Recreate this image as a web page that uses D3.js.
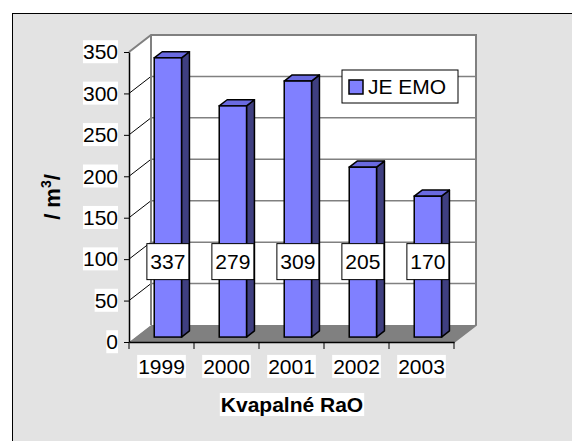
<!DOCTYPE html>
<html>
<head>
<meta charset="utf-8">
<script src="https://cdn.jsdelivr.net/npm/d3@7"></script>
<style>
  body { margin: 0; background: #fff; }
  text { font-family: "Liberation Sans", Arial, sans-serif; }
</style>
</head>
<body>
<svg id="chart" width="572" height="441"></svg>
<script>
// data
const years = ['1999', '2000', '2001', '2002', '2003'];
const values = [337, 279, 309, 205, 170];
const yTicks = [0, 50, 100, 150, 200, 250, 300, 350];
const seriesName = 'JE EMO';

const svg = d3.select('#chart');
const front = { left: 129, right: 454, top: 52, bottom: 342 };
const depth = { dx: 22, dy: -17 };   // full 3d depth offset
const barDepth = [0.29, 0.65];       // bar occupies this slice of depth
const fontSize = 21;

const xScale = d3.scaleBand()
    .domain(years)
    .range([front.left, front.right]);

const yScale = d3.scaleLinear()
    .domain([0, 350])
    .range([front.bottom, front.top]);

// outer frame
svg.append('rect')
    .attr('x', 12.5).attr('y', 13.5)
    .attr('width', 600).attr('height', 600)
    .attr('fill', '#e3e3e3')
    .attr('stroke', '#000').attr('stroke-width', 1);

const off = f => [depth.dx * f, depth.dy * f];

// floor
svg.append('polygon')
    .attr('points', [
      [front.left, front.bottom],
      [front.left + depth.dx, front.bottom + depth.dy],
      [front.right + depth.dx, front.bottom + depth.dy],
      [front.right, front.bottom]
    ].join(' '))
    .attr('fill', '#808080');

// side wall
svg.append('polygon')
    .attr('points', [
      [front.left, front.bottom],
      [front.left, front.top],
      [front.left + depth.dx, front.top + depth.dy],
      [front.left + depth.dx, front.bottom + depth.dy]
    ].join(' '))
    .attr('fill', '#fff');

// back wall
svg.append('rect')
    .attr('x', front.left + depth.dx)
    .attr('y', front.top + depth.dy)
    .attr('width', front.right - front.left)
    .attr('height', front.bottom - front.top)
    .attr('fill', '#fff');

// grid on back wall
svg.append('g').selectAll('line')
    .data(yTicks.slice(1, -1))
    .join('line')
    .attr('x1', front.left + depth.dx)
    .attr('x2', front.right + depth.dx)
    .attr('y1', d => yScale(d) + depth.dy)
    .attr('y2', d => yScale(d) + depth.dy)
    .attr('stroke', '#808080').attr('stroke-width', 1.5);

// diagonal grid on side wall
svg.append('g').selectAll('line')
    .data(yTicks.slice(1, -1))
    .join('line')
    .attr('x1', front.left)
    .attr('x2', front.left + depth.dx)
    .attr('y1', d => yScale(d))
    .attr('y2', d => yScale(d) + depth.dy)
    .attr('stroke', '#000').attr('stroke-width', 1);

// wall borders (gray)
svg.append('path')
    .attr('d', `M${front.left},${front.top} L${front.left + depth.dx},${front.top + depth.dy}
      H${front.right + depth.dx} V${front.bottom + depth.dy} L${front.right},${front.bottom}`)
    .attr('fill', 'none')
    .attr('stroke', '#808080').attr('stroke-width', 2);
svg.append('line')
    .attr('x1', front.left + depth.dx).attr('x2', front.left + depth.dx)
    .attr('y1', front.top + depth.dy).attr('y2', front.bottom + depth.dy)
    .attr('stroke', '#808080').attr('stroke-width', 2);

// bars
const barW = xScale.bandwidth() * 0.42;
const [f0, f1] = barDepth;
const bars = svg.append('g').selectAll('g')
    .data(years.map((y, i) => ({ year: y, value: values[i] })))
    .join('g');

bars.each(function(d) {
  const g = d3.select(this);
  const cx = xScale(d.year) + xScale.bandwidth() / 2;
  const x0 = cx - barW / 2 + off(f0)[0];
  const x1 = x0 + barW;
  const yb = yScale(0) + off(f0)[1];
  const yt = yScale(d.value) + off(f0)[1];
  const sx = (f1 - f0) * depth.dx, sy = (f1 - f0) * depth.dy;
  g.append('polygon')
      .attr('points', [[x1, yb], [x1, yt], [x1 + sx, yt + sy], [x1 + sx, yb + sy]].join(' '))
      .attr('fill', '#3f3f80').attr('stroke', '#000').attr('stroke-width', 1.5)
      .attr('stroke-linejoin', 'round');
  g.append('polygon')
      .attr('points', [[x0, yt], [x0 + sx, yt + sy], [x1 + sx, yt + sy], [x1, yt]].join(' '))
      .attr('fill', '#6a6ae0').attr('stroke', '#000').attr('stroke-width', 1.5)
      .attr('stroke-linejoin', 'round');
  g.append('rect')
      .attr('x', x0).attr('y', yt)
      .attr('width', barW).attr('height', yb - yt)
      .attr('fill', '#8080ff').attr('stroke', '#000').attr('stroke-width', 1.5);
});

// value labels
const labelLevel = 97;
bars.each(function(d) {
  const g = d3.select(this);
  const cx = xScale(d.year) + xScale.bandwidth() / 2 + off(f0)[0];
  const cy = yScale(labelLevel);
  g.append('rect')
      .attr('x', cx - 21).attr('y', cy - 18)
      .attr('width', 42).attr('height', 36)
      .attr('fill', '#fff').attr('stroke', '#000').attr('stroke-width', 1);
  g.append('text')
      .attr('x', cx).attr('y', cy + 7.5)
      .attr('text-anchor', 'middle')
      .attr('font-size', fontSize)
      .text(d.value);
});

// helper: white box behind text
function backBox(sel, padX, padY) {
  sel.each(function() {
    const b = this.getBBox();
    d3.select(this.parentNode).insert('rect', () => this)
        .attr('x', b.x - padX).attr('y', b.y - padY)
        .attr('width', b.width + 2 * padX).attr('height', b.height + 2 * padY)
        .attr('fill', '#fff');
  });
}

// y axis
const yAxis = d3.axisLeft(yScale)
    .tickValues(yTicks)
    .tickSize(5)
    .tickSizeOuter(0)
    .tickPadding(6);
const yAxisG = svg.append('g')
    .attr('transform', `translate(${front.left},0)`)
    .call(yAxis);
yAxisG.select('.domain').attr('stroke-width', 1.5);
yAxisG.selectAll('text')
    .attr('font-size', fontSize)
    .attr('font-family', '"Liberation Sans", Arial, sans-serif')
    .attr('fill', '#000');
backBox(yAxisG.selectAll('text'), 0, 0);

// x axis
const xAxis = d3.axisBottom(xScale)
    .tickSize(0)
    .tickPadding(17);
const xAxisG = svg.append('g')
    .attr('transform', `translate(0,${front.bottom})`)
    .call(xAxis);
xAxisG.select('.domain').attr('stroke-width', 1.5);
xAxisG.selectAll('text')
    .attr('font-size', fontSize)
    .attr('font-family', '"Liberation Sans", Arial, sans-serif')
    .attr('fill', '#000');
backBox(xAxisG.selectAll('text'), 1, 0);
xAxisG.append('g').selectAll('line')
    .data(years.concat(['end']))
    .join('line')
    .attr('x1', (d, i) => i < years.length ? xScale(d) : front.right)
    .attr('x2', (d, i) => i < years.length ? xScale(d) : front.right)
    .attr('y1', 0).attr('y2', 7)
    .attr('stroke', '#000');

// axis titles
const yTitle = svg.append('text')
    .attr('transform', 'translate(60,197) rotate(-90)')
    .attr('text-anchor', 'middle')
    .attr('font-size', 22)
    .attr('font-weight', 'bold');
yTitle.append('tspan').text('/ m');
yTitle.append('tspan').attr('dy', -9).attr('font-size', 14).text('3');
yTitle.append('tspan').attr('dy', 9).text('/');
backBox(yTitle, 2, 0);

const xTitle = svg.append('text')
    .attr('x', 292).attr('y', 412)
    .attr('text-anchor', 'middle')
    .attr('font-size', fontSize)
    .attr('font-weight', 'bold')
    .text('Kvapalné RaO');
backBox(xTitle, 1, 0);

// legend
const legend = svg.append('g').attr('transform', 'translate(342,70)');
legend.append('rect')
    .attr('width', 116).attr('height', 33)
    .attr('fill', '#fff').attr('stroke', '#000').attr('stroke-width', 1);
legend.append('rect')
    .attr('x', 7).attr('y', 10).attr('width', 14).attr('height', 14)
    .attr('fill', '#8080ff').attr('stroke', '#000').attr('stroke-width', 1.5);
legend.append('text')
    .attr('x', 26).attr('y', 24)
    .attr('font-size', fontSize)
    .text(seriesName);
</script>
</body>
</html>
